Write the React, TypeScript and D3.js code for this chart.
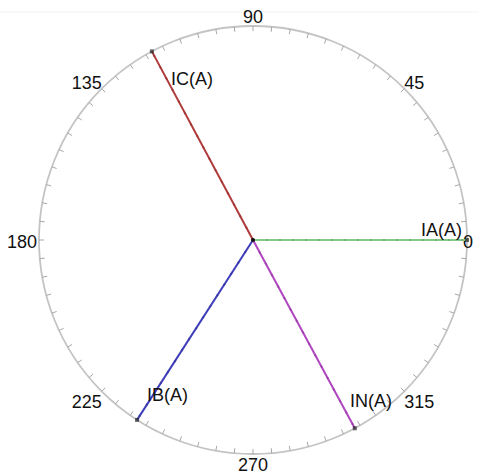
import React from "react";
import * as d3 from "d3";

// Phasor names, angles (degrees) and magnitudes (normalised to full scale)
const phasorNames = ["IA(A)", "IC(A)", "IB(A)", "IN(A)"];
const phasorAngles = [0, 118.2, 237.2, 298.4];
const phasorMagnitudes = [1, 1, 1, 1];
const phasorColors = ["#86c986", "#b03a3a", "#3e3ebb", "#b046c0"];

// Angle ring labels
const ringAngles = [0, 45, 90, 135, 180, 225, 270, 315];

const W = 479;
const H = 476;
const cx = 253;
const cy = 240;
const R = 214;

export default function App() {
  const rScale = d3.scaleLinear().domain([0, 1]).range([0, R]);
  const toRad = (deg: number) => (deg * Math.PI) / 180;
  const pt = (deg: number, r: number): [number, number] => [
    cx + r * Math.cos(toRad(deg)),
    cy - r * Math.sin(toRad(deg)),
  ];

  const minorTicks = d3.range(0, 360, 5);
  const font = "'Liberation Sans', Arial, sans-serif";
  const fs = 18;

  return (
    <svg
      width={W}
      height={H}
      style={{ position: "absolute", left: 0, top: 0, background: "#fff" }}
    >
      <line x1={0} x2={W} y1={12} y2={12} stroke="#f2f2f2" strokeWidth={1} />
      <circle cx={cx} cy={cy} r={R} fill="none" stroke="#c4c4c4" strokeWidth={1.8} />
      {minorTicks.map((a) => {
        const [x1, y1] = pt(a, R);
        const [x2, y2] = pt(a, R - 5);
        return (
          <line key={a} x1={x1} y1={y1} x2={x2} y2={y2} stroke="#a8a8a8" strokeWidth={1} />
        );
      })}
      {ringAngles.map((a) => {
        const c = Math.cos(toRad(a));
        const s = Math.sin(toRad(a));
        let [x, y] = pt(a, R);
        let anchor: "start" | "end" | "middle" = "middle";
        let baseline: "auto" | "hanging" | "central" = "central";
        if (Math.abs(c) < 0.01) {
          anchor = "middle";
          baseline = s > 0 ? "auto" : "hanging";
          y += s > 0 ? -3 : 4;
        } else if (Math.abs(s) < 0.01) {
          baseline = "central";
          if (c > 0) {
            anchor = "start";
            x -= 4;
          } else {
            anchor = "end";
            x -= 2;
          }
          y += 2;
        } else {
          anchor = c > 0 ? "start" : "end";
          baseline = s > 0 ? "auto" : "hanging";
          y += s > 0 ? 0 : 4;
        }
        return (
          <text
            key={a}
            x={x}
            y={y}
            textAnchor={anchor}
            dominantBaseline={baseline}
            fontFamily={font}
            fontSize={fs}
            fill="#111"
          >
            {a}
          </text>
        );
      })}
      {phasorNames.map((name, i) => {
        const r = rScale(phasorMagnitudes[i]);
        const [x2, y2] = pt(phasorAngles[i], r);
        return (
          <g key={name}>
            <line x1={cx} y1={cy} x2={x2} y2={y2} stroke={phasorColors[i]} strokeWidth={2} />
            <line
              x1={cx}
              y1={cy}
              x2={x2}
              y2={y2}
              stroke={d3.color(phasorColors[i])!.darker(0.6).toString()}
              strokeWidth={2}
              strokeDasharray="2 11"
              opacity={0.6}
            />
            <rect x={x2 - 2} y={y2 - 2} width={4} height={4} fill="#222" opacity={0.7} />
          </g>
        );
      })}
      <circle cx={cx} cy={cy} r={2} fill="#111" />
      {/* phasor labels */}
      <text x={462} y={236} textAnchor="end" fontFamily={font} fontSize={fs} fill="#111">IA(A)</text>
      <text x={171} y={85} fontFamily={font} fontSize={fs} fill="#111">IC(A)</text>
      <text x={147} y={401} fontFamily={font} fontSize={fs} fill="#111">IB(A)</text>
      <text x={350} y={407} fontFamily={font} fontSize={fs} fill="#111">IN(A)</text>
    </svg>
  );
}
